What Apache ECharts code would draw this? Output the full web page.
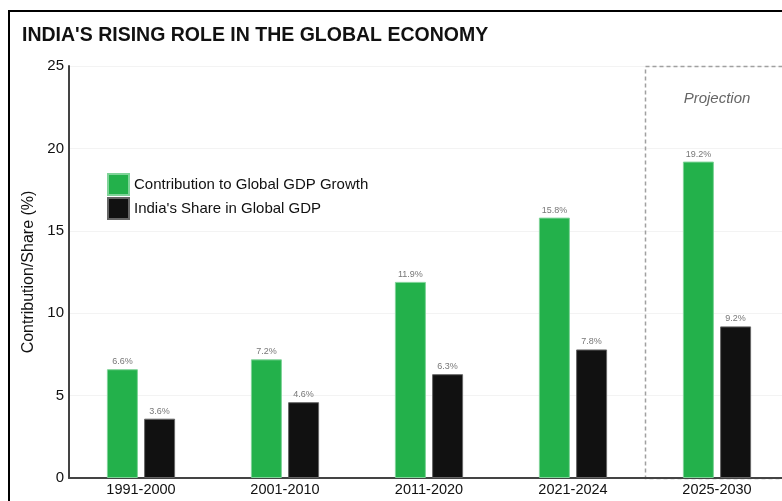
<!DOCTYPE html>
<html>
<head>
<meta charset="utf-8">
<script src="https://cdn.jsdelivr.net/npm/echarts@6/dist/echarts.min.js"></script>
<style>
html,body{margin:0;padding:0;background:#fff;}
#chart{width:782px;height:501px;}
</style>
</head>
<body>
<div id="chart"></div>
<script>
const categories = ['1991-2000', '2001-2010', '2011-2020', '2021-2024', '2025-2030'];
const contribution = [6.6, 7.2, 11.9, 15.8, 19.2];
const share = [3.6, 4.6, 6.3, 7.8, 9.2];
const seriesNames = ['Contribution to Global GDP Growth', "India's Share in Global GDP"];
const yTicks = [0, 5, 10, 15, 20, 25];

const chart = echarts.init(document.getElementById('chart'));
const labelCfg = {
  show: true, position: 'top', distance: 3,
  formatter: p => p.value.toFixed(1) + '%',
  fontFamily: 'Liberation Sans', fontSize: 9, color: '#777'
};
chart.setOption({
  animation: false,
  backgroundColor: '#fff',
  title: {
    text: "INDIA'S RISING ROLE IN THE GLOBAL ECONOMY",
    left: 17, top: 21,
    textStyle: {fontFamily: 'Liberation Sans', fontWeight: 'bold', fontSize: 19.5, color: '#111'}
  },
  legend: {
    orient: 'vertical', left: 102, top: 168,
    itemWidth: 21, itemHeight: 21, itemGap: 1, icon: 'rect',
    textStyle: {fontFamily: 'Liberation Sans', fontSize: 15, color: '#111'},
    data: seriesNames
  },
  grid: {left: 69, width: 720, top: 66, bottom: 23, containLabel: false, outerBoundsMode: 'none'},
  xAxis: {
    type: 'category', data: categories,
    axisLine: {lineStyle: {color: '#444', width: 2}},
    axisTick: {show: false},
    axisLabel: {fontFamily: 'Liberation Sans', fontSize: 14.5, color: '#111', margin: 4}
  },
  yAxis: {
    type: 'value', min: 0, max: 25, interval: 5,
    name: 'Contribution/Share (%)', nameLocation: 'middle', nameGap: 32,
    nameTextStyle: {fontFamily: 'Liberation Sans', fontSize: 16, color: '#111'},
    axisLine: {show: true, lineStyle: {color: '#444', width: 2}},
    axisTick: {show: false},
    axisLabel: {fontFamily: 'Liberation Sans', fontSize: 15, color: '#111', margin: 5,
      formatter: v => yTicks.includes(v) ? String(v) : ''},
    splitLine: {lineStyle: {color: '#f3f3f3', width: 1}}
  },
  series: [
    {name: seriesNames[0], type: 'bar', data: contribution, barWidth: 31, barGap: '20%',
     itemStyle: {color: '#23b14b', borderColor: '#7fd398', borderWidth: 1}, label: labelCfg},
    {name: seriesNames[1], type: 'bar', data: share, barWidth: 31,
     itemStyle: {color: '#111111', borderColor: '#666', borderWidth: 1}, label: labelCfg}
  ]
});

const pTop = chart.convertToPixel({xAxisIndex: 0, yAxisIndex: 0}, [categories[4], 25]);
const pPrev = chart.convertToPixel({xAxisIndex: 0, yAxisIndex: 0}, [categories[3], 0]);
const pText = chart.convertToPixel({xAxisIndex: 0, yAxisIndex: 0}, [categories[4], 23]);
const boxLeft = (pTop[0] + pPrev[0]) / 2;
chart.setOption({
  graphic: [
    {type: 'rect', silent: true, z: 0,
     shape: {x: Math.round(boxLeft) + 0.5, y: Math.round(pTop[1]) + 0.5, width: 400, height: pPrev[1] - pTop[1]},
     style: {fill: 'none', stroke: '#a0a0a0', lineWidth: 1.5, lineDash: [4, 3]}},
    {type: 'text', silent: true, z: 10, x: pText[0], y: pText[1],
     style: {text: 'Projection', fontFamily: 'Liberation Sans', fontStyle: 'italic', fontSize: 15,
             fill: '#666', textAlign: 'center', textVerticalAlign: 'middle'}},
    {type: 'rect', silent: true, z: 100,
     shape: {x: 9, y: 11, width: 900, height: 900},
     style: {fill: 'none', stroke: '#000', lineWidth: 2}}
  ]
});
</script>
</body>
</html>
